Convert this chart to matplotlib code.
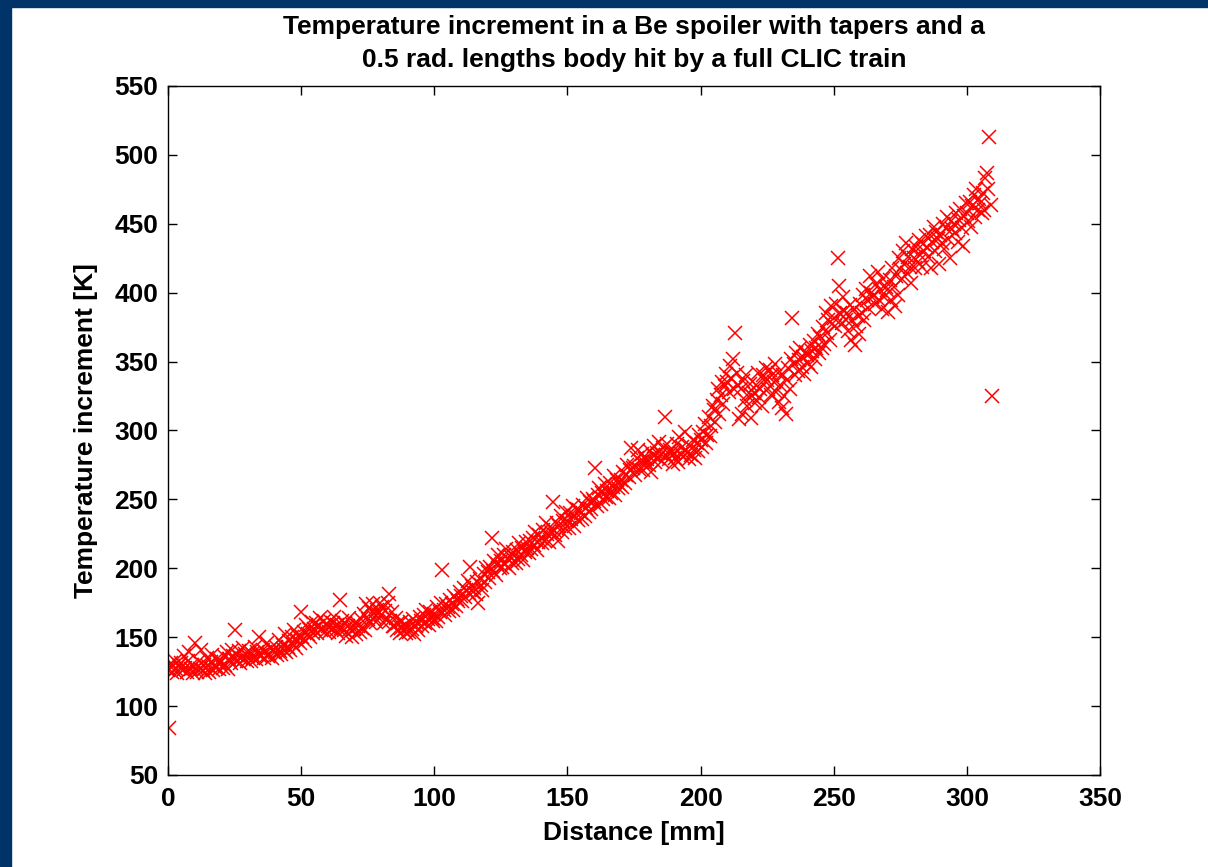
import numpy as np
import matplotlib
matplotlib.use("Agg")
import matplotlib.pyplot as plt
from matplotlib.patches import Rectangle

# sample positions along the spoiler, every 0.5 mm
distance = np.arange(0, 310, 0.5)

# temperature increment [K], ten samples per 5 mm
temp_rise = [
    126, 84, 131, 125, 129, 133, 127, 124, 130, 128,
    131, 126, 136, 128, 125, 133, 139, 127, 130, 124,
    146, 128, 125, 133, 127, 141, 126, 130, 124, 135,
    129, 125, 132, 137, 126, 130, 128, 134, 127, 131,
    133, 128, 136, 130, 139, 127, 134, 131, 141, 136,
    155, 133, 137, 140, 131, 135, 142, 134, 138, 133,
    136, 140, 133, 138, 135, 143, 134, 139, 150, 136,
    137, 141, 135, 139, 146, 136, 138, 142, 135, 140,
    139, 143, 137, 148, 140, 138, 144, 141, 152, 139,
    143, 147, 141, 150, 145, 155, 142, 148, 151, 146,
    168, 150, 154, 147, 159, 152, 156, 150, 161, 153,
    156, 160, 153, 158, 164, 155, 157, 162, 154, 159,
    158, 154, 162, 156, 160, 165, 155, 159, 153, 177,
    157, 162, 155, 160, 151, 158, 164, 156, 150, 159,
    156, 152, 160, 158, 154, 163, 157, 167, 155, 174,
    163, 171, 160, 168, 174, 165, 161, 170, 167, 175,
    166, 172, 160, 169, 163, 175, 181, 162, 168, 158,
    158, 164, 155, 160, 153, 157, 162, 155, 159, 153,
    157, 154, 161, 156, 163, 152, 158, 160, 155, 165,
    162, 158, 166, 160, 170, 163, 159, 168, 164, 162,
    167, 162, 172, 165, 168, 175, 199, 170, 166, 174,
    172, 169, 177, 174, 170, 180, 173, 178, 176, 183,
    180, 176, 186, 179, 184, 191, 182, 201, 187, 183,
    186, 181, 190, 175, 192, 188, 184, 196, 190, 200,
    197, 193, 201, 222, 198, 205, 195, 203, 210, 200,
    205, 201, 210, 203, 214, 207, 200, 209, 204, 212,
    209, 204, 213, 207, 218, 210, 215, 206, 212, 219,
    215, 211, 220, 214, 222, 217, 226, 213, 219, 224,
    222, 218, 228, 220, 233, 225, 219, 230, 226, 248,
    228, 224, 233, 220, 231, 238, 226, 234, 229, 241,
    234, 229, 240, 236, 245, 231, 238, 243, 235, 242,
    240, 236, 246, 238, 244, 251, 241, 248, 243, 250,
    249, 273, 245, 253, 258, 247, 255, 250, 261, 252,
    256, 251, 262, 255, 259, 267, 253, 264, 258, 261,
    264, 259, 270, 262, 268, 275, 266, 271, 287, 273,
    274, 268, 280, 286, 272, 277, 283, 271, 279, 276,
    279, 275, 285, 270, 282, 289, 277, 284, 280, 292,
    283, 278, 287, 310, 282, 290, 279, 286, 284, 276,
    284, 280, 290, 277, 295, 283, 288, 281, 299, 286,
    284, 279, 289, 282, 293, 286, 280, 291, 285, 297,
    293, 288, 299, 305, 291, 297, 310, 296, 303, 318,
    315, 306, 322, 330, 312, 326, 335, 319, 332, 341,
    335, 328, 347, 338, 352, 330, 371, 342, 333, 308,
    330, 312, 336, 322, 340, 318, 327, 334, 309, 325,
    327, 320, 333, 342, 324, 330, 318, 340, 337, 345,
    337, 330, 344, 326, 340, 335, 348, 328, 342, 321,
    333, 316, 340, 325, 312, 337, 345, 330, 352, 382,
    348, 340, 356, 343, 351, 360, 346, 353, 341, 357,
    355, 349, 362, 346, 358, 365, 352, 360, 370, 356,
    368, 360, 375, 363, 385, 371, 380, 366, 390, 377,
    382, 376, 392, 425, 405, 385, 378, 397, 387, 380,
    385, 372, 391, 366, 380, 388, 362, 376, 383, 370,
    392, 385, 398, 380, 403, 395, 389, 412, 400, 397,
    398, 392, 406, 415, 395, 402, 388, 410, 397, 404,
    402, 386, 409, 395, 418, 404, 390, 412, 398, 425,
    417, 410, 430, 421, 436, 414, 426, 419, 407, 432,
    425, 418, 433, 422, 438, 427, 419, 435, 430, 441,
    433, 426, 442, 418, 437, 448, 430, 444, 439, 421,
    442, 436, 450, 432, 447, 455, 439, 425, 452, 446,
    450, 443, 458, 437, 453, 461, 447, 434, 456, 465,
    458, 452, 466, 448, 463, 471, 455, 475, 460, 468,
    465, 458, 472, 460, 483, 487, 475, 513, 464, 325,
]

x_ticks = [0, 50, 100, 150, 200, 250, 300, 350]
y_ticks = [50, 100, 150, 200, 250, 300, 350, 400, 450, 500, 550]

plt.rcParams['font.family'] = ['Liberation Sans', 'DejaVu Sans']
plt.rcParams['font.weight'] = 'bold'
plt.rcParams['font.size'] = 19

fig = plt.figure(figsize=(12.08, 8.67), dpi=100)
fig.patch.set_facecolor('white')

# dark blue slide frame (left and top)
frame_col = '#003468'
fig.add_artist(Rectangle((0, 0), 11 / 1208, 1, transform=fig.transFigure,
                         color=frame_col, zorder=0))
fig.add_artist(Rectangle((0, 1 - 7 / 867), 1, 7 / 867, transform=fig.transFigure,
                         color=frame_col, zorder=0))

ax = fig.add_axes([168 / 1208, 92 / 867, 932 / 1208, 689 / 867])
ax.plot(distance, temp_rise, 'x', color='red', markersize=10, markeredgewidth=1.1)

ax.set_xlim(0, 350)
ax.set_ylim(50, 550)
ax.set_xticks(x_ticks)
ax.set_yticks(y_ticks)
ax.tick_params(direction='in', length=6.5, width=1.0, top=True, right=True,
               labelsize=19, pad=7)
ax.tick_params(axis='x', pad=9)
for sp in ax.spines.values():
    sp.set_linewidth(1.0)

ax.set_xlabel('Distance [mm]', fontsize=19, fontweight='bold', labelpad=7)
ax.set_ylabel('Temperature increment [K]', fontsize=19, fontweight='bold', labelpad=12)
ax.set_title('Temperature increment in a Be spoiler with tapers and a\n'
             '0.5 rad. lengths body hit by a full CLIC train',
             fontsize=19, fontweight='bold', pad=14, linespacing=1.45)

fig.savefig('out.png', dpi=100)
